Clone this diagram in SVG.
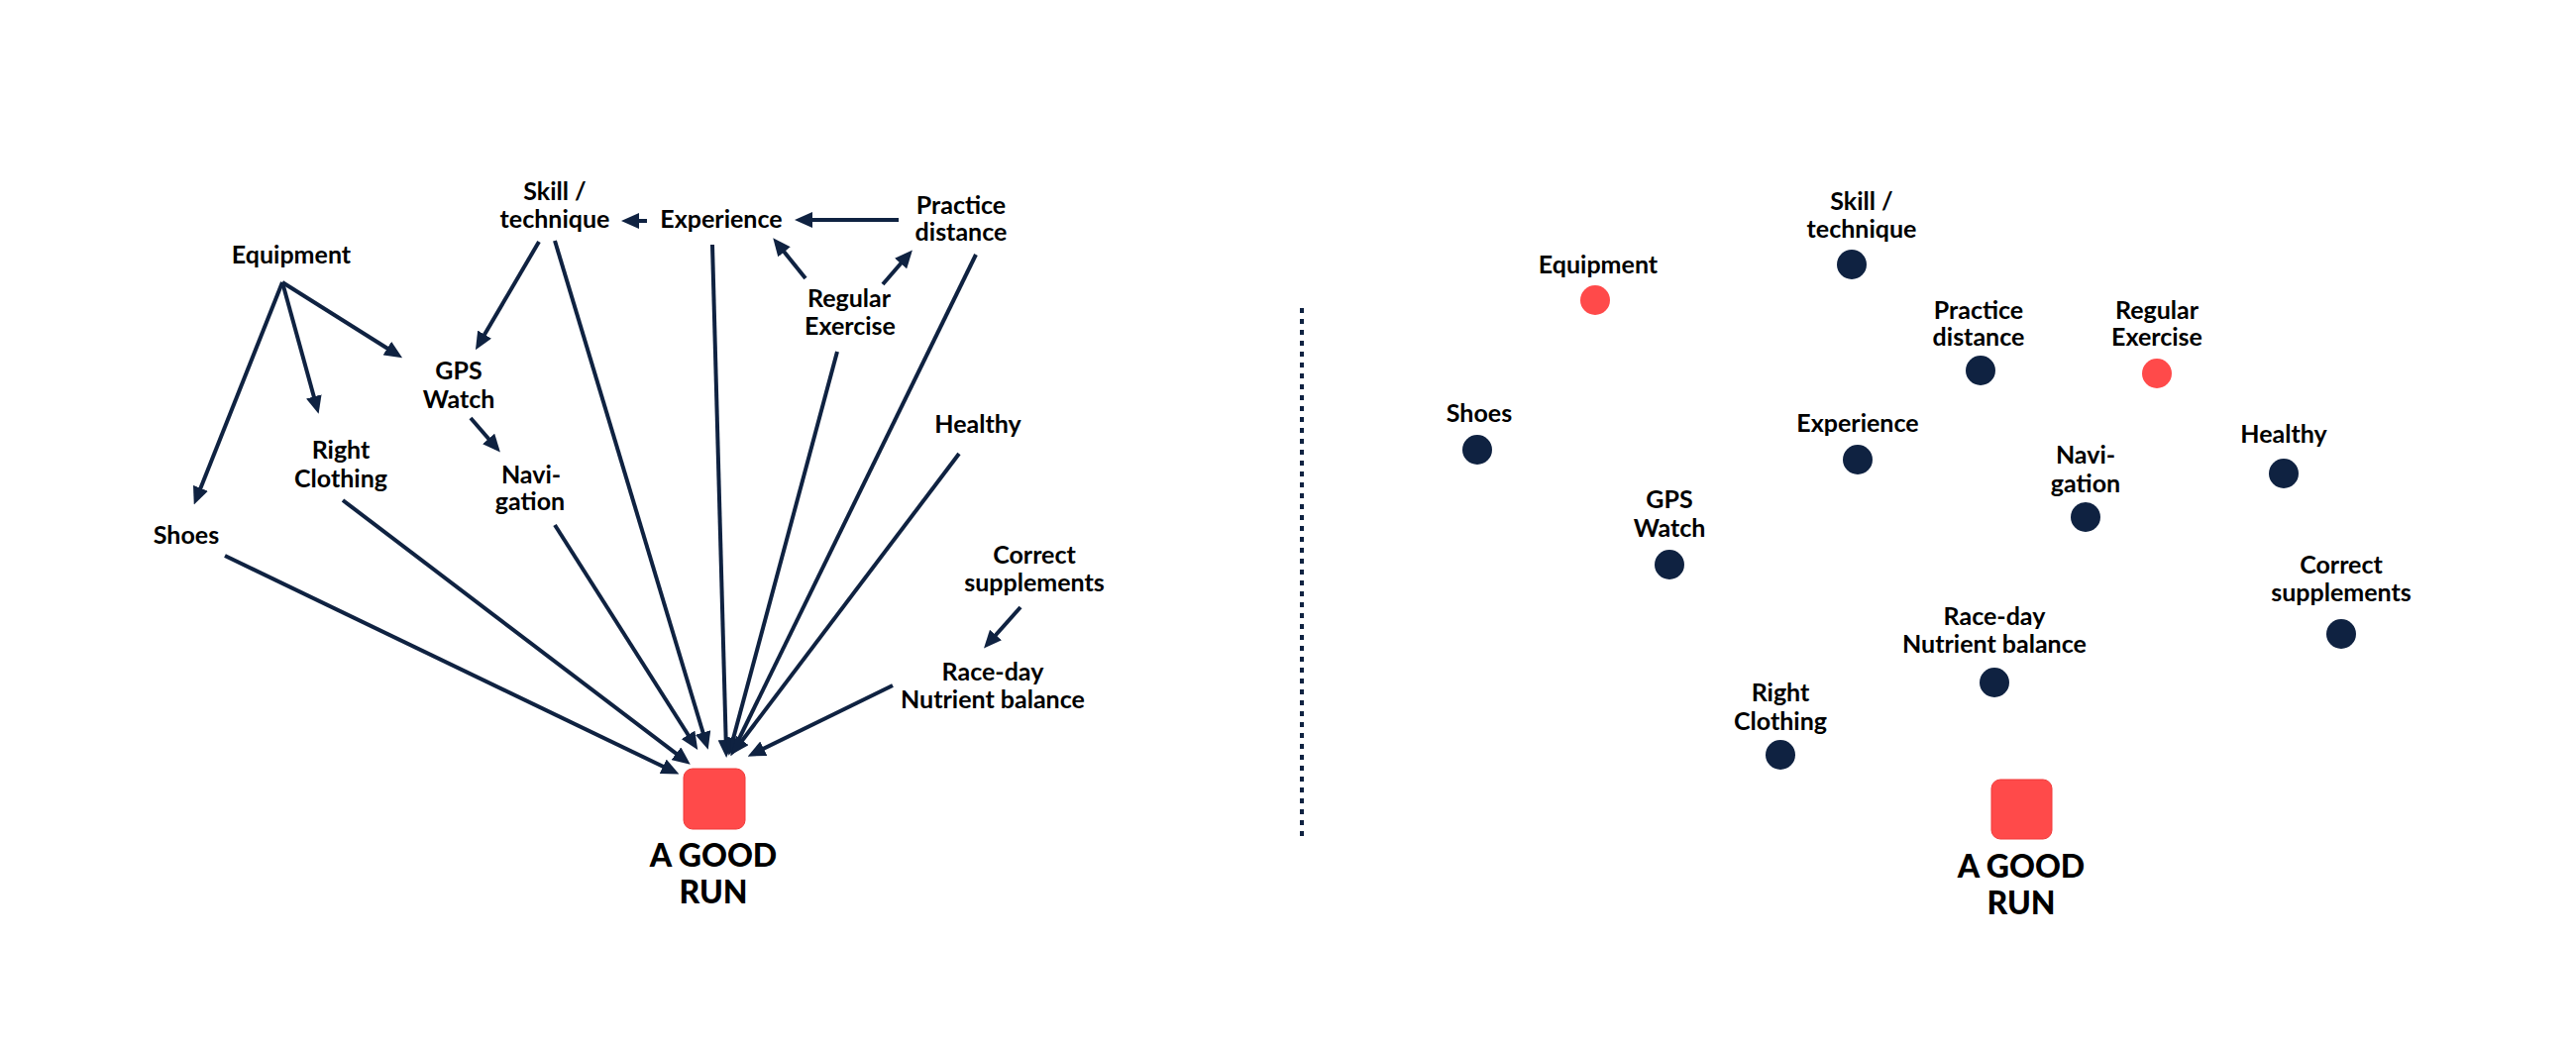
<svg xmlns="http://www.w3.org/2000/svg" width="2600" height="1058" viewBox="0 0 2600 1058">
<style>
.bg{fill:#ffffff}
text{font-family:Lato,"Liberation Sans",sans-serif;font-weight:700;font-size:25px;fill:#000;text-anchor:middle}
.big{font-size:32px;font-weight:900}
.edge{stroke:#0f2241;stroke-width:4;fill:none;marker-end:url(#ah)}
.dot{fill:#0f2241}
.hot{fill:#ff4a4a}
.run{fill:#ff4a4a;stroke:#f03a3a;stroke-width:1}
.divider{stroke:#0f2241;stroke-width:4;stroke-dasharray:5 6}
</style>
<defs>
<marker id="ah" viewBox="0 0 18 16" markerUnits="userSpaceOnUse" markerWidth="18" markerHeight="16" refX="12" refY="8" orient="auto">
<path d="M0,0 L18,8 L0,16 z" fill="#0f2241"/>
</marker>
</defs>
<rect class="bg" x="0" y="0" width="2600" height="1058"/>

<g id="connectors">
<line class="edge" x1="653" y1="223" x2="633" y2="223"/>
<line class="edge" x1="907" y1="222" x2="808" y2="222"/>
<line class="edge" x1="813" y1="281" x2="784" y2="245"/>
<line class="edge" x1="891" y1="287" x2="917" y2="257"/>
<line class="edge" x1="285" y1="285" x2="198" y2="504"/>
<line class="edge" x1="285" y1="285" x2="320" y2="412"/>
<line class="edge" x1="285" y1="285" x2="401" y2="358"/>
<line class="edge" x1="544" y1="244" x2="483" y2="348"/>
<line class="edge" x1="475" y1="422" x2="501" y2="452"/>
<line class="edge" x1="1030" y1="613" x2="997" y2="650"/>
<line class="edge" x1="227" y1="561" x2="680" y2="779"/>
<line class="edge" x1="346" y1="505" x2="692" y2="768"/>
<line class="edge" x1="560" y1="530" x2="701" y2="752"/>
<line class="edge" x1="560" y1="243" x2="713" y2="751"/>
<line class="edge" x1="719" y1="247" x2="733" y2="759"/>
<line class="edge" x1="845" y1="355" x2="737" y2="757"/>
<line class="edge" x1="985" y1="257" x2="740" y2="758"/>
<line class="edge" x1="968" y1="458" x2="742" y2="757"/>
<line class="edge" x1="901" y1="692" x2="760" y2="761"/>
</g>

<g id="left-skill"><text x="560" y="202">Skill /</text><text x="560" y="230">technique</text></g>
<g id="left-experience"><text x="728" y="230">Experience</text></g>
<g id="left-practice"><text x="970" y="216">Practice</text><text x="970" y="243">distance</text></g>
<g id="left-equipment"><text x="294" y="266">Equipment</text></g>
<g id="left-regular"><text x="857" y="310">Regular</text><text x="858" y="338">Exercise</text></g>
<g id="left-gps"><text x="463" y="383">GPS</text><text x="463" y="412">Watch</text></g>
<g id="left-clothing"><text x="344" y="463">Right</text><text x="344" y="492">Clothing</text></g>
<g id="left-navigation"><text x="536" y="488">Navi-</text><text x="535" y="515">gation</text></g>
<g id="left-healthy"><text x="987" y="437">Healthy</text></g>
<g id="left-shoes"><text x="188" y="549">Shoes</text></g>
<g id="left-supplements"><text x="1044" y="569">Correct</text><text x="1044" y="597">supplements</text></g>
<g id="left-raceday"><text x="1002" y="687">Race-day</text><text x="1002" y="715">Nutrient balance</text></g>
<g id="left-run"><rect class="run" x="690" y="776" width="62" height="61" rx="9"/><text class="big" x="720" y="875">A GOOD</text><text class="big" x="720" y="912">RUN</text></g>

<line id="divider" class="divider" x1="1314" y1="311" x2="1314" y2="848"/>

<g id="right-skill"><text x="1879" y="212">Skill /</text><text x="1879" y="240">technique</text><circle class="dot" cx="1869" cy="267" r="15"/></g>
<g id="right-equipment"><text x="1613" y="276">Equipment</text><circle class="hot" cx="1610" cy="303" r="15"/></g>
<g id="right-practice"><text x="1997" y="322">Practice</text><text x="1997" y="349">distance</text><circle class="dot" cx="1999" cy="374" r="15"/></g>
<g id="right-regular"><text x="2177" y="322">Regular</text><text x="2177" y="349">Exercise</text><circle class="hot" cx="2177" cy="377" r="15"/></g>
<g id="right-shoes"><text x="1493" y="426">Shoes</text><circle class="dot" cx="1491" cy="454" r="15"/></g>
<g id="right-experience"><text x="1875" y="436">Experience</text><circle class="dot" cx="1875" cy="464" r="15"/></g>
<g id="right-healthy"><text x="2305" y="447">Healthy</text><circle class="dot" cx="2305" cy="478" r="15"/></g>
<g id="right-navigation"><text x="2105" y="468">Navi-</text><text x="2105" y="497">gation</text><circle class="dot" cx="2105" cy="522" r="15"/></g>
<g id="right-gps"><text x="1685" y="513">GPS</text><text x="1685" y="542">Watch</text><circle class="dot" cx="1685" cy="570" r="15"/></g>
<g id="right-supplements"><text x="2363" y="579">Correct</text><text x="2363" y="607">supplements</text><circle class="dot" cx="2363" cy="640" r="15"/></g>
<g id="right-raceday"><text x="2013" y="631">Race-day</text><text x="2013" y="659">Nutrient balance</text><circle class="dot" cx="2013" cy="689" r="15"/></g>
<g id="right-clothing"><text x="1797" y="708">Right</text><text x="1797" y="737">Clothing</text><circle class="dot" cx="1797" cy="762" r="15"/></g>
<g id="right-run"><rect class="run" x="2010" y="787" width="61" height="60" rx="9"/><text class="big" x="2040" y="886">A GOOD</text><text class="big" x="2040" y="923">RUN</text></g>
</svg>
